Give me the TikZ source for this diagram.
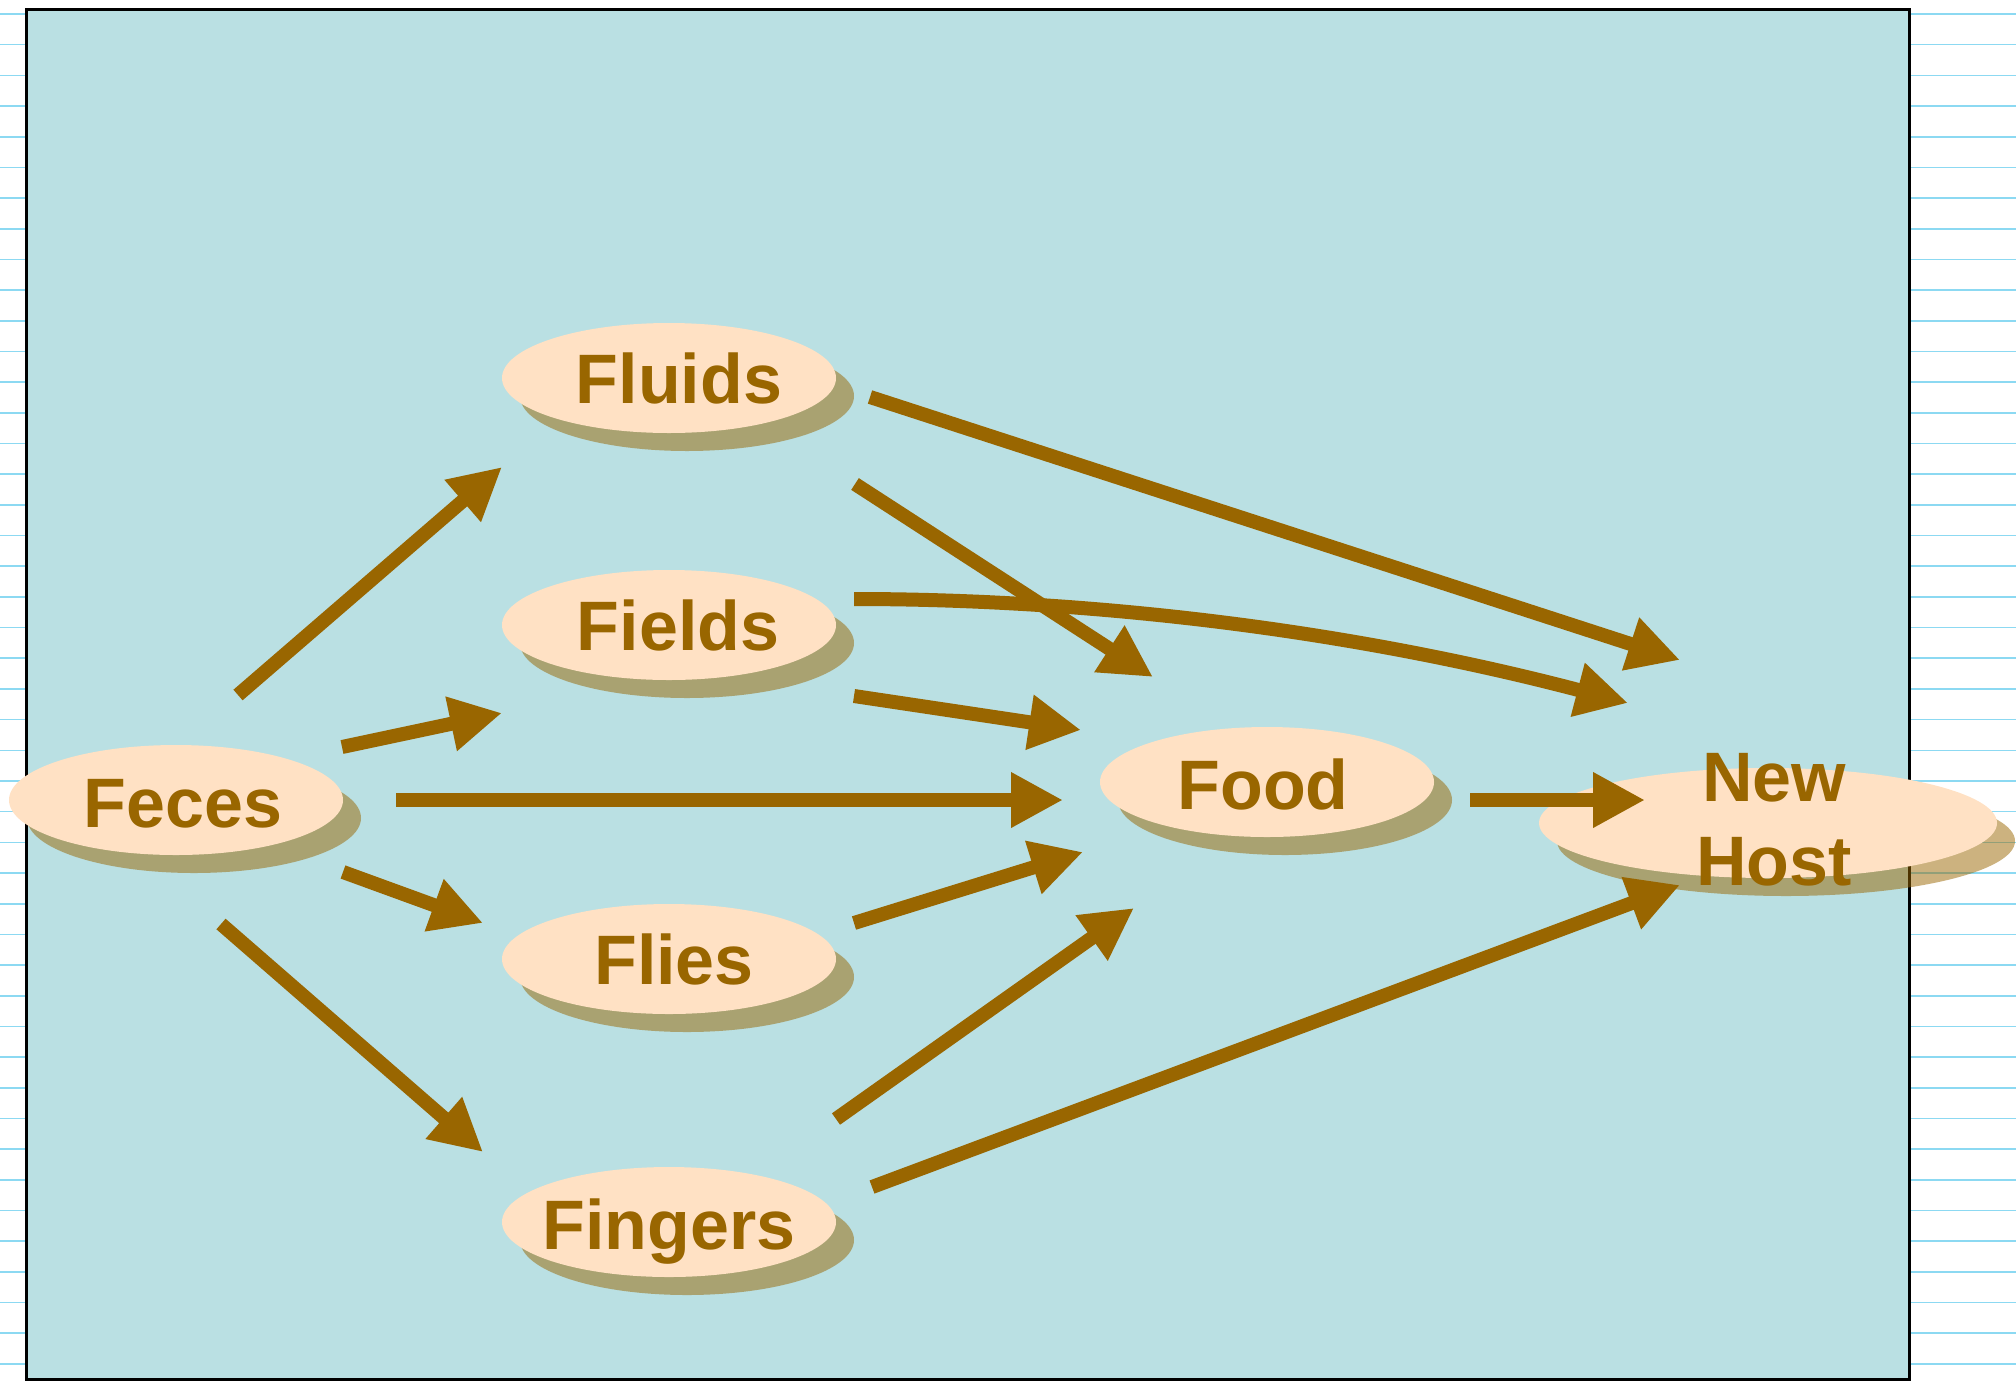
\documentclass[tikz,border=0pt]{standalone}
\usepackage{fontspec}
\setmainfont{Liberation Sans}
\usetikzlibrary{arrows.meta,shapes.geometric,shadows}
\definecolor{brownink}{HTML}{996600}
\definecolor{peach}{HTML}{FFE1C4}
\definecolor{pool}{HTML}{BAE0E3}
\definecolor{ruling}{HTML}{8CD9F2}
\begin{document}
\begin{tikzpicture}[x=0.5pt,y=-0.5pt,
  blob/.style={ellipse, fill=peach, inner sep=0pt,
    minimum width=167pt, minimum height=55pt,
    drop shadow={shadow xshift=9pt, shadow yshift=-9pt, opacity=0.5, fill=brownink}},
  lbl/.style={text=brownink, font=\fontsize{35}{42}\selectfont\bfseries,
    inner sep=0pt, text height=25.5pt, text depth=0pt},
  flow/.style={draw=brownink, line width=7pt,
    -{Triangle[length=26pt,width=26pt]}}]
\useasboundingbox (0,0) rectangle (2016,1381);

% ruled paper behind the panel
\foreach \k in {0,...,44}
  \draw[ruling, line width=0.8pt] (0,{14+30.68*\k}) -- (2016,{14+30.68*\k});

% panel
\draw[fill=pool, draw=black, line width=1.5pt] (26,9) rectangle (1909,1379);

% stations
\node[blob] (feces)   at (176,800)  {};
\node[blob] (fluids)  at (669,378)  {};
\node[blob] (fields)  at (669,625)  {};
\node[blob] (flies)   at (669,959)  {};
\node[blob] (fingers) at (669,1222) {};
\node[blob] (food)    at (1267,782) {};
\node[blob, minimum width=229pt] (host) at (1768,823) {};

\node[lbl] (feces-t)   at ([xshift=3.5pt,yshift=-1pt]feces) {Feces};
\node[lbl] (fluids-t)  at ([xshift=5pt]fluids)  {Fluids};
\node[lbl] (fields-t)  at ([xshift=4.5pt]fields) {Fields};
\node[lbl] (flies-t)   at ([xshift=2.5pt]flies)  {Flies};
\node[lbl] (fingers-t) at ([yshift=-1pt]fingers) {Fingers};
\node[lbl] (food-t)    at ([xshift=-2pt,yshift=-1pt]food) {Food};
\node[lbl, anchor=base] (host-a) at (1774,801) {New};
\node[lbl, anchor=base] (host-b) at (1774,885) {Host};

% connector ends
\coordinate (a1s) at (238,695);  \coordinate (a1e) at (502,467);
\coordinate (a2s) at (342,747);  \coordinate (a2e) at (502,713);
\coordinate (a3s) at (396,800);  \coordinate (a3e) at (1063,800);
\coordinate (a4s) at (343,872);  \coordinate (a4e) at (483,923);
\coordinate (a5s) at (221,924);  \coordinate (a5e) at (483,1152);
\coordinate (b1s) at (870,397);  \coordinate (b1e) at (1680,660);
\coordinate (b2s) at (855,484);  \coordinate (b2e) at (1153,677);
\coordinate (c1s) at (854,599);  \coordinate (c1e) at (1628,703);
\coordinate (c2s) at (854,696);  \coordinate (c2e) at (1081,730);
\coordinate (d1s) at (854,923);  \coordinate (d1e) at (1083,852);
\coordinate (e1s) at (836,1119); \coordinate (e1e) at (1134,908);
\coordinate (e2s) at (872,1187); \coordinate (e2e) at (1680,885);
\coordinate (f1s) at (1470,800); \coordinate (f1e) at (1645,800);
\coordinate (k1) at (1093,599);  \coordinate (k2) at (1350,630);

% routes
\draw[flow] (a1s) -- (a1e);
\draw[flow] (a2s) -- (a2e);
\draw[flow] (a3s) -- (a3e);
\draw[flow] (a4s) -- (a4e);
\draw[flow] (a5s) -- (a5e);
\draw[flow] (b1s) -- (b1e);
\draw[flow] (b2s) -- (b2e);
\draw[flow] (c1s) .. controls (k1) and (k2) .. (c1e);
\draw[flow] (c2s) -- (c2e);
\draw[flow] (d1s) -- (d1e);
\draw[flow] (e1s) -- (e1e);
\draw[flow] (e2s) -- (e2e);
\draw[flow] (f1s) -- (f1e);
\end{tikzpicture}
\end{document}
